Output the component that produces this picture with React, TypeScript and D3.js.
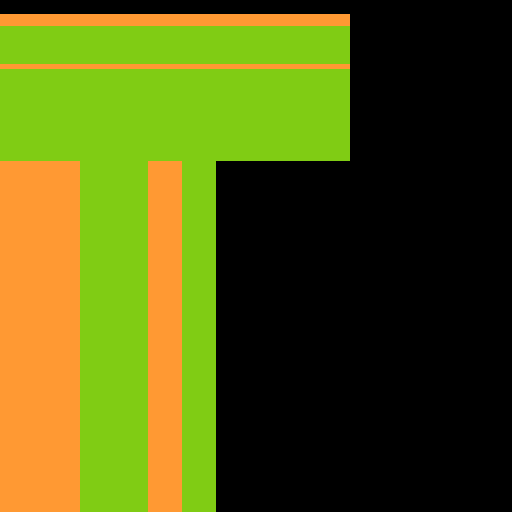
import { scaleLinear, scaleOrdinal, cumsum } from "d3";

const topNames = ["a1", "a2", "a3", "a4"];
const topValues = [12, 38, 5, 92];
const bottomNames = ["b1", "b2", "b3", "b4"];
const bottomValues = [80, 68, 34, 34];

const W = 512;
const H = 512;

export default function App() {
    const color = scaleOrdinal<number, string>().domain([0, 1]).range(["#ff9933", "#80cc14"]);

    const topTotal = topValues.reduce((a, b) => a + b, 0);
    const yTop = scaleLinear().domain([0, topTotal]).range([14, 161]);
    const topEnds = Array.from(cumsum(topValues));

    const bottomTotal = bottomValues.reduce((a, b) => a + b, 0);
    const xBottom = scaleLinear().domain([0, bottomTotal]).range([0, 216]);
    const bottomEnds = Array.from(cumsum(bottomValues));

    return (
        <svg width={W} height={H} style={{ position: "fixed", left: 0, top: 0, background: "#000" }}>
            {topValues.map((v, i) => (
                <rect
                    key={topNames[i]}
                    x={0}
                    width={350}
                    y={yTop(topEnds[i] - v)}
                    height={yTop(topEnds[i]) - yTop(topEnds[i] - v)}
                    fill={color(i % 2)}
                />
            ))}
            {bottomValues.map((v, i) => (
                <rect
                    key={bottomNames[i]}
                    y={161}
                    height={H - 161}
                    x={xBottom(bottomEnds[i] - v)}
                    width={xBottom(bottomEnds[i]) - xBottom(bottomEnds[i] - v)}
                    fill={color(i % 2)}
                />
            ))}
        </svg>
    );
}
